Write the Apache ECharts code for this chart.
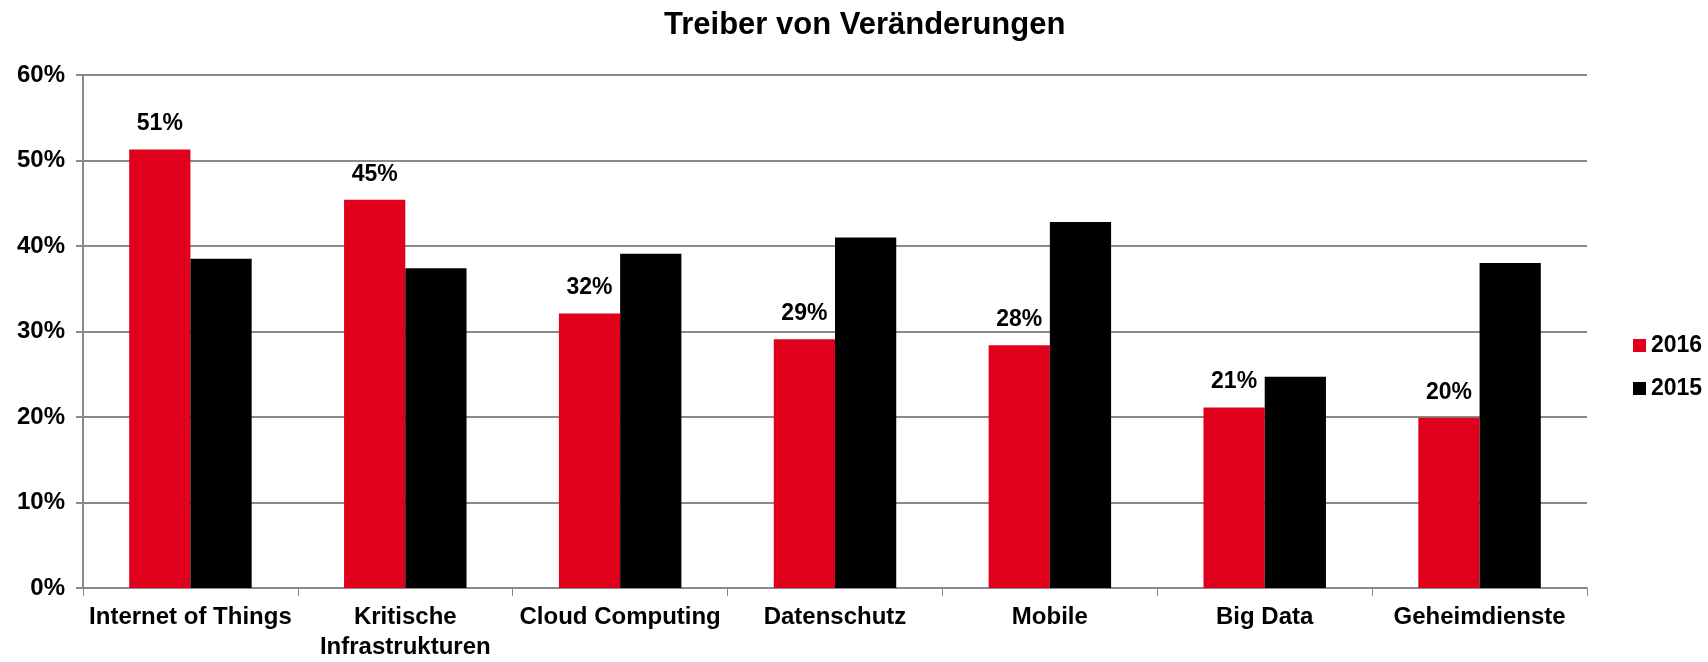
<!DOCTYPE html>
<html>
<head>
<meta charset="utf-8">
<title>Treiber von Veränderungen</title>
<script src="https://cdn.jsdelivr.net/npm/echarts@6/dist/echarts.min.js"></script>
<style>
    html, body { margin: 0; padding: 0; background: #fff; }
    #chart { width: 1708px; height: 662px; }
</style>
</head>
<body>
<div id="chart"></div>
<script>
// Werte (in %)
var categories = ['Internet of Things', 'Kritische\nInfrastrukturen', 'Cloud Computing',
    'Datenschutz', 'Mobile', 'Big Data', 'Geheimdienste'];
var values2016 = [51.3, 45.4, 32.1, 29.1, 28.4, 21.1, 19.9];
var values2015 = [38.5, 37.4, 39.1, 41.0, 42.8, 24.7, 38.0];
var yTicks = [0, 10, 20, 30, 40, 50, 60];

var fontName = '"Liberation Sans", Arial, sans-serif';
var gridColor = '#8a8a8a';

var chart = echarts.init(document.getElementById('chart'));
var option = {
    animation: false,
    title: {
        text: 'Treiber von Veränderungen',
        left: 659,
        top: 5,
        textStyle: { fontFamily: fontName, fontSize: 31, fontWeight: 'bold', color: '#000' }
    },
    legend: {
        orient: 'vertical',
        left: 1628,
        top: 329,
        itemWidth: 13,
        itemHeight: 13,
        itemGap: 20,
        icon: 'rect',
        data: ['2016', '2015'],
        textStyle: { fontFamily: fontName, fontSize: 23, fontWeight: 'bold', color: '#000' }
    },
    grid: { left: 83, right: 121, top: 75, bottom: 67, containLabel: false },
    xAxis: {
        type: 'category',
        data: categories,
        axisLine: { lineStyle: { color: gridColor, width: 2 } },
        axisTick: { show: true, length: 8, lineStyle: { color: gridColor, width: 1 } },
        axisLabel: {
            interval: 0,
            margin: 14,
            lineHeight: 30,
            fontFamily: fontName, fontSize: 24, fontWeight: 'bold', color: '#000'
        }
    },
    yAxis: {
        type: 'value',
        min: yTicks[0],
        max: yTicks[yTicks.length - 1],
        interval: 10,
        axisLine: { show: true, lineStyle: { color: gridColor, width: 2 } },
        axisTick: { show: true, length: 7, lineStyle: { color: gridColor, width: 2 } },
        splitLine: { lineStyle: { color: gridColor, width: 2 } },
        axisLabel: {
            margin: 18,
            formatter: '{value}%',
            fontFamily: fontName, fontSize: 24, fontWeight: 'bold', color: '#000'
        }
    },
    series: [
        {
            name: '2016',
            type: 'bar',
            data: values2016,
            barGap: '0%',
            barCategoryGap: '43%',
            itemStyle: { color: '#e0001b' },
            label: {
                show: true,
                position: 'top',
                distance: 14,
                formatter: function (p) { return Math.round(p.value) + '%'; },
                fontFamily: fontName, fontSize: 23, fontWeight: 'bold', color: '#000'
            }
        },
        {
            name: '2015',
            type: 'bar',
            data: values2015,
            barGap: '0%',
            barCategoryGap: '43%',
            itemStyle: { color: '#000' }
        }
    ]
};
chart.setOption(option);
</script>
</body>
</html>
